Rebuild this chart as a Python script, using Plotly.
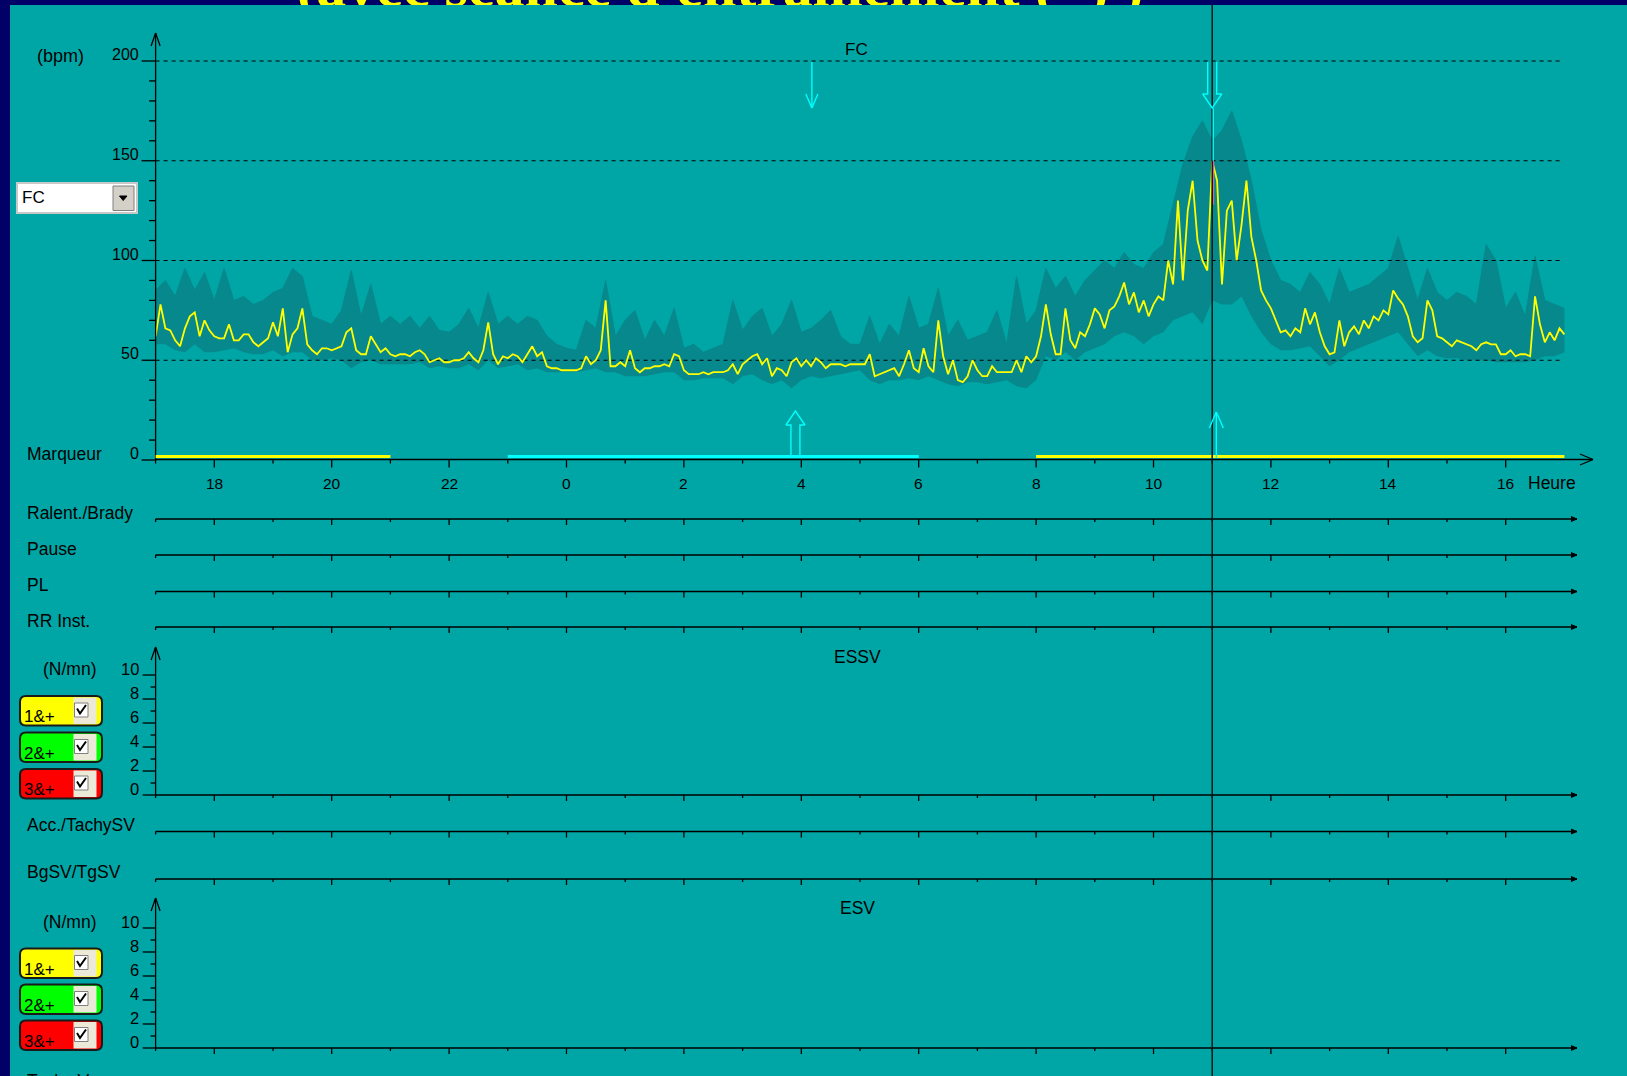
import numpy as np
import plotly.graph_objects as go

# ---------------------------------------------------------------- données
# heures comptées depuis 17:00 du premier jour (17 -> 41)
t_start = 17.0
fc_step = 5 / 60      # FC moyenne : un point toutes les 5 min
band_step = 10 / 60   # enveloppe min / max : un point toutes les 10 min

# FC moyenne (bpm), 17:00 -> 17:00
fc_mean = [
    62, 78, 66, 65, 60, 57, 66, 72, 74, 62, 70, 65,   # 17h
    62, 61, 61, 68, 60, 60, 63, 63, 59, 57, 59, 61,   # 18h
    69, 62, 76, 54, 63, 66, 76, 58, 55, 53, 56, 56,   # 19h
    55, 56, 57, 64, 66, 55, 53, 53, 62, 58, 54, 56,   # 20h
    53, 52, 53, 53, 52, 54, 55, 53, 49, 50, 51, 49,   # 21h
    49, 50, 50, 51, 54, 51, 49, 55, 69, 53, 48, 52,   # 22h
    51, 53, 52, 49, 53, 57, 52, 54, 47, 46, 46, 45,   # 23h
    45, 45, 45, 46, 52, 48, 50, 55, 80, 47, 47, 49,   # 0h
    47, 55, 46, 44, 46, 46, 47, 47, 48, 47, 53, 52,   # 1h
    45, 43, 43, 43, 44, 43, 44, 44, 44, 45, 48, 43,   # 2h
    48, 50, 52, 53, 48, 51, 42, 46, 45, 42, 49, 51,   # 3h
    47, 50, 47, 51, 49, 46, 48, 48, 48, 47, 48, 48,   # 4h
    48, 48, 53, 42, 43, 44, 45, 46, 42, 48, 55, 46,   # 5h
    44, 56, 47, 44, 70, 52, 43, 50, 40, 39, 42, 50,   # 6h
    45, 42, 42, 47, 44, 44, 44, 44, 50, 44, 52, 49,   # 7h
    52, 62, 78, 63, 53, 53, 76, 60, 56, 64, 62, 68,   # 8h
    76, 73, 66, 75, 77, 82, 89, 78, 84, 74, 80, 72,   # 9h
    78, 82, 80, 100, 88, 130, 90, 125, 140, 110, 100, 95,   # 10h
    150, 140, 88, 125, 130, 100, 118, 140, 112, 100, 85, 80,  # 11h
    76, 70, 64, 65, 62, 66, 64, 76, 68, 74, 64, 57,   # 12h
    53, 54, 70, 57, 64, 67, 63, 70, 66, 72, 70, 75,   # 13h
    73, 85, 81, 78, 72, 62, 59, 61, 80, 75, 62, 61,   # 14h
    59, 57, 60, 59, 58, 57, 55, 58, 59, 58, 58, 53,   # 15h
    53, 55, 52, 53, 53, 52, 82, 68, 59, 64, 60, 66,   # 16h
    63,
]

# enveloppe haute / basse (bpm)
fc_high = [
    85, 90, 82, 96, 85, 94,
    80, 96, 80, 82, 78, 80,
    84, 86, 96, 92, 72, 70,
    68, 75, 95, 72, 88, 68,
    72, 68, 72, 66, 72, 65,
    64, 68, 76, 66, 84, 68,
    72, 68, 72, 70, 62, 58,
    56, 55, 70, 66, 90, 62,
    70, 75, 60, 70, 62, 76,
    56, 58, 54, 56, 58, 80,
    65, 72, 76, 62, 68, 80,
    64, 66, 70, 75, 62, 58,
    58, 72, 58, 68, 62, 82,
    66, 68, 86, 62, 70, 60,
    62, 64, 75, 58, 92, 68,
    75, 96, 86, 92, 82, 90,
    95, 100, 96, 104, 98, 96,
    104, 108, 128, 148, 162, 170,
    160, 165, 175, 160, 140, 115,
    100, 90, 88, 84, 94, 88,
    78, 96, 84, 86, 88, 92,
    96, 112, 96, 80, 96, 84,
    80, 84, 82, 78, 108, 100,
    76, 84, 72, 102, 80, 78,
    76,
]
fc_low = [
    58, 58, 55, 54, 58, 54,
    54, 55, 56, 54, 53, 53,
    55, 52, 54, 54, 50, 50,
    51, 50, 46, 49, 50, 48,
    48, 48, 48, 49, 46, 47,
    46, 46, 48, 45, 50, 46,
    47, 48, 45, 46, 44, 44,
    44, 44, 45, 46, 44, 44,
    42, 42, 42, 43, 44, 44,
    40, 40, 41, 41, 41, 38,
    42, 43, 40, 38, 40, 36,
    40, 42, 41, 42, 43, 44,
    45, 40, 38, 40, 40, 41,
    40, 42, 40, 38, 37, 39,
    39, 38, 39, 40, 37, 36,
    40, 52, 50, 54, 50, 54,
    56, 58, 62, 64, 62, 58,
    62, 64, 70, 72, 74, 68,
    80, 78, 78, 82, 72, 64,
    58, 55, 55, 56, 57, 52,
    47, 50, 54, 56, 58, 60,
    62, 64, 58, 52, 55, 52,
    51, 51, 50, 50, 50, 49,
    49, 49, 49, 50, 52, 52,
    54,
]

# marqueurs (début, fin en heures, couleur)
marker_start = [17, 23, 32]
marker_end = [21, 30, 41]
marker_color = ["#FFFF00", "#00FFFF", "#FFFF00"]

hour_ticks = list(range(18, 41, 2))
hour_labels = [str(h % 24) for h in hour_ticks]
fc_labels = [0, 50, 100, 150, 200]
fc_grid = [50, 100, 150, 200]
count_labels = [0, 2, 4, 6, 8, 10]

cursor_hour = 35.0
arrow_down_thin = 28.18
arrow_down_hollow = 35.0
arrow_up_hollow = 27.9
arrow_up_thin = 35.07
pink_low, pink_high = 128, 150

row_labels = ["Ralent./Brady", "Pause", "PL", "RR Inst."]
sv_labels = ["Acc./TachySV", "BgSV/TgSV"]
button_labels = ["1&+", "2&+", "3&+"]
button_colors = ["#FFFF00", "#00FF00", "#FF0000"]
title_text = "(avec séance d'entraînement (+) )"

# ---------------------------------------------------------------- mise en page
W, H = 1627, 1076
BG = "#00A6A6"
BAND = "#07888C"
NAVY = "#000066"
INK = "#000000"
FONT = "Liberation Sans, Arial, sans-serif"
LAB = 17.5

X0, PPH = 155.6, 58.7        # pixel de 17h, pixels par heure
FC_Y0, PPB = 460.0, 1.995    # pixel de 0 bpm, pixels par bpm
AX_END, ROW_END, GRID_END = 1593, 1577, 1562

row_y = [519, 555, 591.5, 627]
sv_y = [831.5, 879]
panels = [(795, 647), (1048, 898)]   # (pixel du 0, pointe de la flèche)
UNIT = 12.0


def hx(px):
    return 17 + (px - X0) / PPH


def xp(h):
    return X0 + (h - 17) * PPH


def fy(v):
    return FC_Y0 - v * PPB


ink_x, ink_y = [], []
tri_x, tri_y = [], []
cyan_x, cyan_y = [], []


def seg(x0, y0, x1, y1, xs=ink_x, ys=ink_y):
    xs += [hx(x0), hx(x1), None]
    ys += [y0, y1, None]


def poly(pts, xs, ys):
    xs += [hx(p[0]) for p in pts] + [None]
    ys += [p[1] for p in pts] + [None]


# axes du temps
time_axes = [(459.5, AX_END, 8, 4)] + [(y, ROW_END, 6, 3) for y in row_y + sv_y]
time_axes += [(p[0], ROW_END, 6, 3) for p in panels]
for y, end, big, small in time_axes:
    seg(X0, y, end, y)
    for h in range(17, 41):
        ln = big if h % 2 == 0 else small
        seg(xp(h), y, xp(h), y + ln)
    if end == ROW_END:
        poly([(end - 6, y - 2.5), (end, y), (end - 6, y + 2.5)], tri_x, tri_y)
seg(AX_END, 459.5, AX_END - 13, 454)
seg(AX_END, 459.5, AX_END - 13, 465)

# axe FC
seg(X0, FC_Y0, X0, 33)
seg(X0, 33, X0 - 4.5, 46)
seg(X0, 33, X0 + 4.5, 46)
for v in range(0, 201, 10):
    ln = 14 if v % 50 == 0 else 6.5
    seg(X0 - ln, fy(v), X0, fy(v))

# axes ESSV / ESV
for y0, top in panels:
    seg(X0, y0, X0, top)
    seg(X0, top, X0 - 4.5, top + 13)
    seg(X0, top, X0 + 4.5, top + 13)
    for k in range(11):
        ln = 13 if k % 2 == 0 else 5
        seg(X0 - ln, y0 - UNIT * k, X0, y0 - UNIT * k)

# flèches cyan
xd = xp(arrow_down_thin)
seg(xd, 62, xd, 108, cyan_x, cyan_y)
seg(xd - 6, 94, xd, 108, cyan_x, cyan_y)
seg(xd + 6, 94, xd, 108, cyan_x, cyan_y)
xc = xp(arrow_down_hollow)
poly([(xc - 4.5, 62), (xc - 4.5, 94), (xc - 9.5, 94), (xc, 108),
      (xc + 9.5, 94), (xc + 4.5, 94), (xc + 4.5, 62)], cyan_x, cyan_y)
seg(xc + 1, 108, xc + 1, fy(pink_high), cyan_x, cyan_y)
xu = xp(arrow_up_hollow)
poly([(xu - 4.5, 458), (xu - 4.5, 425), (xu - 9.5, 425), (xu, 411),
      (xu + 9.5, 425), (xu + 4.5, 425), (xu + 4.5, 458)], cyan_x, cyan_y)
xt = xp(arrow_up_thin)
seg(xt, 458, xt, 412, cyan_x, cyan_y)
seg(xt - 7, 428, xt, 412, cyan_x, cyan_y)
seg(xt + 7, 428, xt, 412, cyan_x, cyan_y)

# ---------------------------------------------------------------- figure
fig = go.Figure()
t5 = t_start + np.arange(len(fc_mean)) * fc_step
t10 = t_start + np.arange(len(fc_high)) * band_step

# titre de la diapositive, presque entièrement caché par la fenêtre
fig.add_trace(go.Scatter(x=[hx(720)], y=[14.0], mode="text", text=[title_text],
                         textposition="middle center", cliponaxis=True, yaxis="y3",
                         textfont=dict(family="Liberation Serif, serif", size=60,
                                       color="#FFFF00", weight="bold")))

fig.add_trace(go.Scatter(x=t10, y=fc_low, mode="lines", line=dict(width=0, color=BAND)))
fig.add_trace(go.Scatter(x=t10, y=fc_high, mode="lines", fill="tonexty", fillcolor=BAND,
                         line=dict(width=1, color=BAND)))
for v in fc_grid:
    fig.add_trace(go.Scatter(x=[17, hx(GRID_END)], y=[v, v], mode="lines",
                             line=dict(color=INK, width=1.1, dash="4px,4px")))
fig.add_trace(go.Scatter(x=t5, y=fc_mean, mode="lines",
                         line=dict(color="#FFFF00", width=1.8)))

fig.add_trace(go.Scatter(x=ink_x, y=ink_y, mode="lines", yaxis="y2",
                         line=dict(color=INK, width=1.3)))
fig.add_trace(go.Scatter(x=tri_x, y=tri_y, mode="lines", yaxis="y2", fill="toself",
                         fillcolor=INK, line=dict(color=INK, width=1)))
for s, e, c in zip(marker_start, marker_end, marker_color):
    fig.add_trace(go.Scatter(x=[s, e], y=[456.5, 456.5], mode="lines", yaxis="y2",
                             line=dict(color=c, width=3)))
fig.add_trace(go.Scatter(x=[cursor_hour, cursor_hour], y=[5, H], mode="lines", yaxis="y2",
                         line=dict(color="#051818", width=1.5)))
fig.add_trace(go.Scatter(x=cyan_x, y=cyan_y, mode="lines", yaxis="y2",
                         line=dict(color="#00FFFF", width=1.4)))
fig.add_trace(go.Scatter(x=[cursor_hour + 1 / PPH] * 2, y=[pink_low, pink_high], mode="lines",
                         line=dict(color="#E0609A", width=2)))

# ---------------------------------------------------------------- textes
ann = []


def text(t, px, py, anchor="left", size=LAB, color=INK):
    ann.append(dict(text=t, x=px / W, y=1 - py / H, xref="paper", yref="paper",
                    xanchor=anchor, yanchor="middle", showarrow=False,
                    font=dict(family=FONT, size=size, color=color)))


text("(bpm)", 60, 56, "center", 18)
for v in fc_labels:
    text(str(v), 141, fy(v) - 6.5, "right", 16)
text("FC", 856, 49, "center", 17)
text("Marqueur", 25, 454)
for h, lab in zip(hour_ticks, hour_labels):
    text(lab, xp(h), 483, "center", 15.5)
text("Heure", 1552, 483, "center")
for lab, y in zip(row_labels, row_y):
    text(lab, 25, y - 6.5)
for lab, y in zip(sv_labels, sv_y):
    text(lab, 25, y - 7)
for (y0, top), name in zip(panels, ["ESSV", "ESV"]):
    text("(N/mn)", 69, y0 - 126, "center")
    for k in count_labels:
        text(str(k), 141, y0 - UNIT * k - 6.5, "right", 16.5)
    text(name, 858, top + 10, "center")
text("Tachy V", 25, 1081)

# ---------------------------------------------------------------- formes
shapes = []


def P(px, py):
    return f"{px / W:.5f},{1 - py / H:.5f}"


def rect(x0, y0, x1, y1, fill, line=None, width=1, layer="above"):
    shapes.append(dict(type="rect", xref="paper", yref="paper", layer=layer,
                       x0=x0 / W, x1=x1 / W, y0=1 - y1 / H, y1=1 - y0 / H,
                       fillcolor=fill, line=dict(color=line or fill, width=width if line else 0)))


def rrect(x0, y0, x1, y1, r, fill):
    d = (f"M{P(x0 + r, y0)} L{P(x1 - r, y0)} Q{P(x1, y0)} {P(x1, y0 + r)} "
         f"L{P(x1, y1 - r)} Q{P(x1, y1)} {P(x1 - r, y1)} L{P(x0 + r, y1)} "
         f"Q{P(x0, y1)} {P(x0, y1 - r)} L{P(x0, y0 + r)} Q{P(x0, y0)} {P(x0 + r, y0)} Z")
    shapes.append(dict(type="path", xref="paper", yref="paper", path=d,
                       fillcolor=fill, line=dict(color="#1A1A1A", width=2)))


rect(0, 0, W, 5, NAVY, layer="below")
rect(0, 0, 10, H, NAVY, layer="below")

# liste déroulante FC
rect(17, 183, 137, 213, "#FFFFFF", "#C8C8C8", 2)
rect(113, 186, 134, 210.5, "#D4D0C8", "#808080", 1)
shapes.append(dict(type="path", xref="paper", yref="paper", fillcolor="#000000",
                   line=dict(color="#000000", width=1),
                   path=f"M{P(119.5, 196)} L{P(127, 196)} L{P(123.2, 200.5)} Z"))
text("FC", 20, 198, "left", 17)

# cases à cocher
for tops in ([696, 732.5, 769], [948.5, 984.5, 1020.5]):
    for top, lab, col in zip(tops, button_labels, button_colors):
        rrect(20, top, 102, top + 29.5, 6, col)
        rect(73.5, top + 1.5, 96.5, top + 28, "#ECE9D8")
        rect(74.5, top + 7, 88, top + 21, "#FFFFFF", "#808080", 1)
        shapes.append(dict(type="path", xref="paper", yref="paper",
                           line=dict(color="#000000", width=2),
                           path=f"M{P(77, top + 12.5)} L{P(80, top + 17.5)} L{P(86, top + 9)}"))
        text(lab, 22, top + 20.5, "left", 17)

fig.update_layout(
    width=W, height=H, margin=dict(l=0, r=0, t=0, b=0),
    paper_bgcolor=BG, plot_bgcolor="rgba(0,0,0,0)",
    showlegend=False, hovermode=False,
    xaxis=dict(domain=[0, 1], range=[hx(0), hx(W)], visible=False, fixedrange=True),
    yaxis=dict(domain=[0, 1], range=[(FC_Y0 - H) / PPB, FC_Y0 / PPB], visible=False),
    yaxis2=dict(domain=[0, 1], range=[H, 0], overlaying="y", visible=False),
    yaxis3=dict(domain=[1 - 5 / H, 1], range=[0, 5], anchor="x", visible=False),
    annotations=ann, shapes=shapes,
)

fig.write_html("out.html", config={"displayModeBar": False},
               post_script="document.body.style.margin = '0';")
